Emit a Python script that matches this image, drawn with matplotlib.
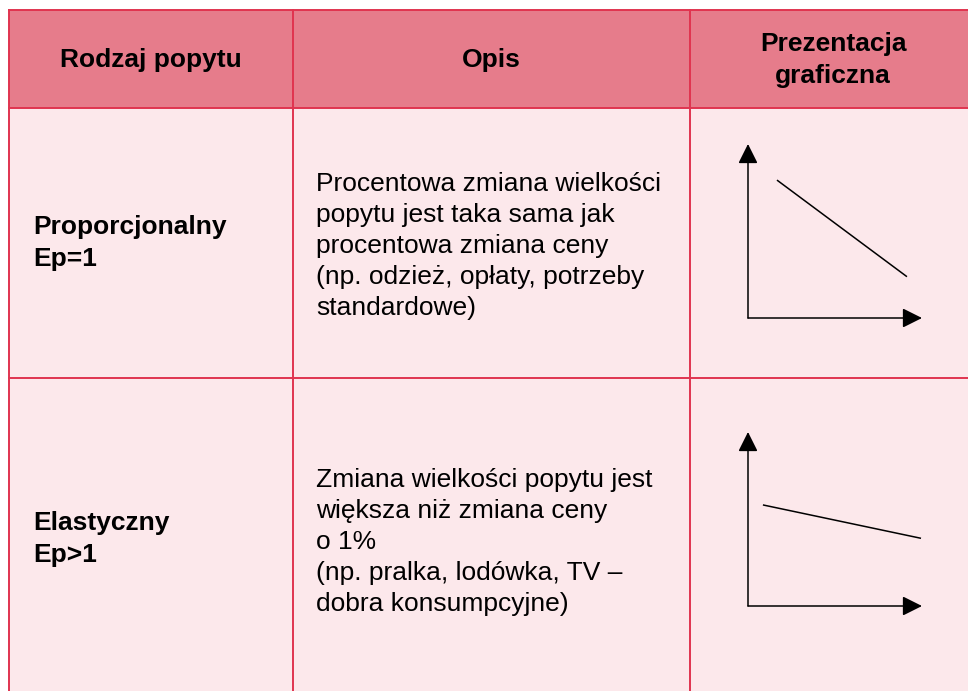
import matplotlib
matplotlib.use("Agg")
import matplotlib.pyplot as plt
from matplotlib.patches import Rectangle

plt.rcParams["font.family"] = ["Liberation Sans", "DejaVu Sans"]

# table content
headers = ["Rodzaj popytu", "Opis", "Prezentacja\ngraficzna"]
row_labels = ["Proporcjonalny\nEp=1", "Elastyczny\nEp>1"]
descriptions = [
    "Procentowa zmiana wielkości\npopytu jest taka sama jak\nprocentowa zmiana ceny\n(np. odzież, opłaty, potrzeby\nstandardowe)",
    "Zmiana wielkości popytu jest\nwiększa niż zmiana ceny\no 1%\n(np. pralka, lodówka, TV –\ndobra konsumpcyjne)",
]
# demand line in each small diagram (x and y as fraction of the axes)
curve_x = [[0.17, 0.91], [0.09, 0.99]]
curve_y = [[0.79, 0.24], [0.58, 0.39]]

W, H = 968, 691
header_fill = "#E67C8B"
body_fill = "#FCE8EB"
border = "#E0344F"

fig = plt.figure(figsize=(W / 100, H / 100), dpi=100)
ax = fig.add_axes([0, 0, 1, 1])
ax.set_xlim(0, W)
ax.set_ylim(H, 0)
ax.axis("off")

col_edges = [9, 293, 690, 976]
row_edges = [10, 108, 378, 700]

ax.add_patch(Rectangle((col_edges[0], row_edges[0]), col_edges[-1] - col_edges[0],
                       row_edges[1] - row_edges[0], facecolor=header_fill, edgecolor="none"))
ax.add_patch(Rectangle((col_edges[0], row_edges[1]), col_edges[-1] - col_edges[0],
                       row_edges[-1] - row_edges[1], facecolor=body_fill, edgecolor="none"))
for x in col_edges:
    ax.plot([x, x], [row_edges[0], row_edges[-1]], color=border, lw=1.4)
for y in row_edges:
    ax.plot([col_edges[0], col_edges[-1]], [y, y], color=border, lw=1.4)

fs = 19
ls = 1.37
centers = [151, 491, 833]
for cx, h in zip(centers, headers):
    ax.text(cx, 60, h, ha="center", va="center", fontsize=fs, fontweight="bold",
            linespacing=ls)

label_y = [243, 539]
for i in range(len(row_labels)):
    ax.text(33, label_y[i], row_labels[i], ha="left", va="center", fontsize=fs,
            fontweight="bold", linespacing=ls)
    ax.text(316, label_y[i] + 3, descriptions[i], ha="left", va="center", fontsize=fs,
            linespacing=ls)

# small diagrams: origin and size in pixels
origins = [(748, 318), (748, 606)]
size = 174
for i, (ox, oy) in enumerate(origins):
    sub = fig.add_axes([ox / W, 1 - oy / H, size / W, size / H])
    sub.set_xlim(0, 1)
    sub.set_ylim(0, 1)
    sub.axis("off")
    arrow = dict(arrowstyle="-|>,head_length=0.6,head_width=0.3", color="black",
                 lw=1.1, shrinkA=0, shrinkB=0, mutation_scale=20)
    sub.annotate("", xy=(1, 0), xytext=(0, 0), arrowprops=arrow, annotation_clip=False)
    sub.annotate("", xy=(0, 1), xytext=(0, 0), arrowprops=arrow, annotation_clip=False)
    sub.plot(curve_x[i], curve_y[i], color="black", lw=1.1, clip_on=False)

fig.savefig("out.png", dpi=100)
